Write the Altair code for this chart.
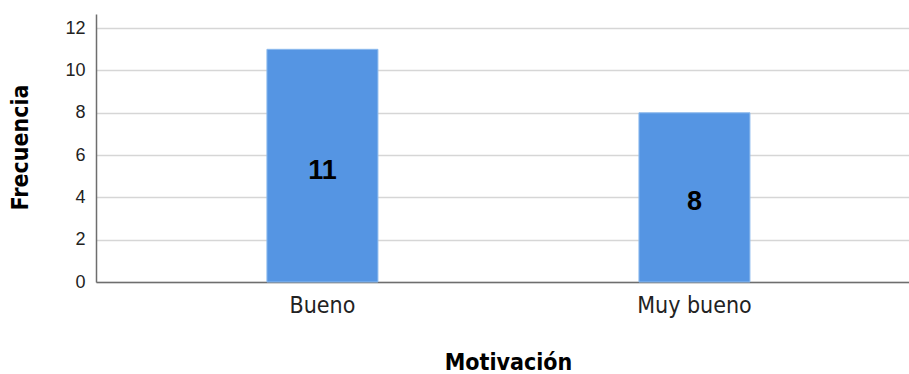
import altair as alt
import pandas as pd

categorias = ["Bueno", "Muy bueno"]
frecuencias = [11, 8]

df = pd.DataFrame({"Motivación": categorias, "Frecuencia": frecuencias})

narrow = "DejaVu Sans Condensed, Liberation Sans Narrow, Arial Narrow, sans-serif"
plain = "Liberation Sans, Arial, sans-serif"

x = alt.X(
    "Motivación:N",
    sort=categorias,
    scale=alt.Scale(paddingInner=0.7016, paddingOuter=0.4435, align=0.518),
    axis=alt.Axis(
        title="Motivación",
        labelAngle=0,
        labelFont=narrow,
        labelFontSize=23,
        labelColor="#222222",
        labelPadding=12,
        ticks=False,
        domainColor="#6e6e6e",
        domainWidth=1.5,
        titleFont=narrow,
        titleFontSize=23,
        titleFontWeight="bold",
        titleColor="#000000",
        titlePadding=34,
        titleX=412,
        titleAlign="center",
    ),
)

y = alt.Y(
    "Frecuencia:Q",
    scale=alt.Scale(domain=[0, 12.67], nice=False),
    axis=alt.Axis(
        title="Frecuencia",
        values=[0, 2, 4, 6, 8, 10, 12],
        labelFont=plain,
        labelFontSize=18,
        labelColor="#222222",
        labelPadding=11,
        ticks=False,
        grid=True,
        gridColor="#d6d6d6",
        gridWidth=1.5,
        domainColor="#6e6e6e",
        domainWidth=1.5,
        titleFont=narrow,
        titleFontSize=23,
        titleFontWeight="bold",
        titleColor="#000000",
        titlePadding=32,
        titleY=133,
    ),
)

bars = alt.Chart(df).mark_bar(
    color="#5595e3", stroke="#8dbbee", strokeWidth=1
).encode(x=x, y=y)

labels = alt.Chart(df).mark_text(
    font=plain,
    fontSize=27,
    fontWeight="bold",
    color="#000000",
    baseline="middle",
    dy=5,
).encode(
    x=alt.X("Motivación:N", sort=categorias),
    y=alt.Y("mid:Q"),
    text="Frecuencia:Q",
).transform_calculate(mid="datum.Frecuencia / 2")

chart = (
    alt.layer(bars, labels)
    .properties(
        width=813,
        height=268,
        background="white",
        padding={"left": 96, "top": 14, "right": 0, "bottom": 92},
        autosize=alt.AutoSizeParams(type="none"),
    )
    .configure_view(strokeWidth=0)
)

chart.save("out.html", embed_options={"renderer": "svg", "actions": False})
